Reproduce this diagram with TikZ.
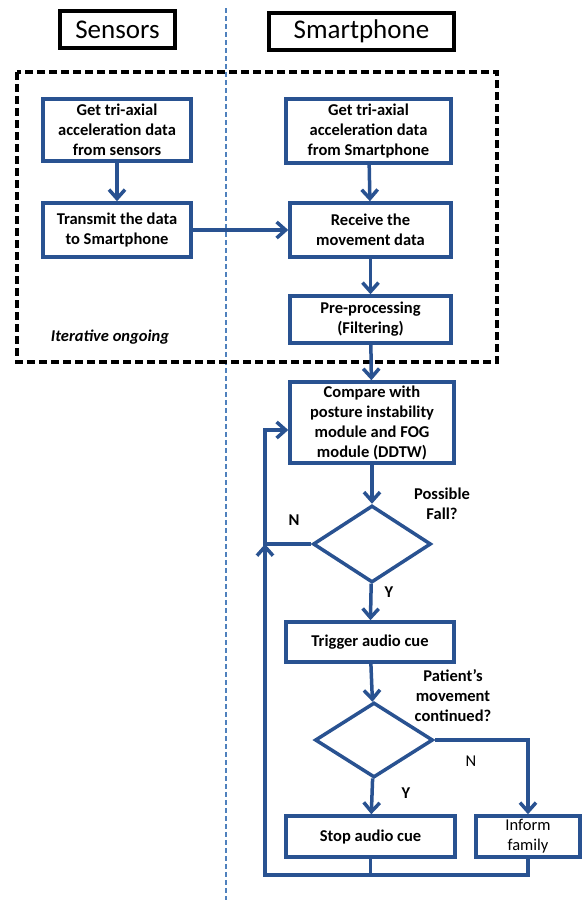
\documentclass[tikz,border=0pt]{standalone}
\usepackage{fontspec}
\setmainfont{Carlito}
\usetikzlibrary{arrows.meta,shapes.geometric}
\definecolor{flowblue}{RGB}{41,82,145}
\definecolor{laneblue}{RGB}{79,129,189}
\tikzset{
  stepbox/.style={draw=flowblue,line width=3.5pt,fill=white,align=center,inner sep=1pt,
    font=\bfseries\fontsize{16.5}{20}\selectfont},
  headbox/.style={draw=black,line width=4pt,inner sep=0pt,font=\fontsize{27}{30}\selectfont},
  decide/.style={diamond,draw=flowblue,line width=3.5pt,inner sep=0pt,
    minimum width=118pt,minimum height=77pt},
  flow/.style={draw=flowblue,line width=3.5pt,-{Straight Barb[length=9pt,width=16pt]}},
  link/.style={draw=flowblue,line width=3.5pt},
  tag/.style={font=\bfseries\fontsize{16.5}{20}\selectfont,align=center}
}
\begin{document}
\begin{tikzpicture}[x=1pt,y=-1pt]
\useasboundingbox (0,0) rectangle (582,900);

% Lane divider and iterative block
\draw[laneblue,line width=2pt,dash pattern=on 5pt off 3pt] (226,8) -- (226,900);
\draw[black,line width=3.5pt,dash pattern=on 8pt off 4pt] (17,72) rectangle (497,362);
\node[tag,font=\bfseries\itshape\fontsize{16.5}{20}\selectfont] (iter) at (110,337) {Iterative ongoing};

% Lane headers
\node[headbox,minimum width=115pt,minimum height=37pt] (sensors) at (117.5,29.5) {Sensors};
\node[headbox,minimum width=185pt,minimum height=37pt] (phone) at (361.5,31.5) {Smartphone};

% Sensor side
\node[stepbox,minimum width=148pt,minimum height=62pt] (getS) at (117,130)
  {Get tri-axial\\acceleration data\\from sensors};
\node[stepbox,minimum width=148pt,minimum height=54pt] (sendS) at (117,230)
  {Transmit the data\\to Smartphone};

% Smartphone side
\node[stepbox,minimum width=165pt,minimum height=64pt] (getP) at (368.5,131)
  {Get tri-axial\\acceleration data\\from Smartphone};
\node[stepbox,minimum width=161pt,minimum height=54pt] (recv) at (370.5,230)
  {Receive the\\movement data};
\node[stepbox,minimum width=161pt,minimum height=47pt] (prep) at (370.5,319.5)
  {Pre-processing\\(Filtering)};
\node[stepbox,minimum width=164pt,minimum height=81pt] (cmp) at (372,422.5)
  {Compare with\\posture instability\\module and FOG\\module (DDTW)};
\node[decide] (fall) at (372,544) {};
\node[stepbox,minimum width=168pt,minimum height=40pt] (trig) at (370,642) {Trigger audio cue};
\node[decide,minimum height=75pt] (moved) at (374,740) {};
\node[stepbox,minimum width=169pt,minimum height=41pt] (stop) at (370.5,836.5) {Stop audio cue};
\node[stepbox,minimum width=104pt,minimum height=41pt,font=\fontsize{16.5}{20}\selectfont] (inform) at (528,836.5)
  {Inform\\family};

% Decision labels
\node[tag] (fallq) at (442,504) {Possible\\Fall?};
\node[tag] (movedq) at (453,696) {Patient’s\\movement\\continued?};
\node[tag] (fallN) at (294,520) {N};
\node[tag] (fallY) at (389,592) {Y};
\node[tag,font=\fontsize{16.5}{20}\selectfont] (movedN) at (471,761) {N};
\node[tag] (movedY) at (406,793) {Y};

% Connectors
\coordinate (join) at (265,544);
\coordinate (bot) at (265,875);
\coordinate (back) at (265,430);
\draw[flow] (getS) -- (sendS);
\draw[flow] (getP) -- (recv);
\draw[flow] (sendS) -- (recv);
\draw[flow] (recv) -- (prep);
\draw[flow] (prep) -- (cmp);
\draw[flow] (cmp) -- (fall);
\draw[flow] (fall) -- (trig);
\draw[flow] (trig) -- (moved);
\draw[flow] (moved) -- (stop);
\draw[flow] (moved.east) -| (inform.north);
\draw[link] (inform.south) |- (bot);
\draw[flow] (stop.south) |- (bot) -- (join);
\draw[flow] (fall.west) -- (join) |- (cmp.west |- back);
\end{tikzpicture}
\end{document}
